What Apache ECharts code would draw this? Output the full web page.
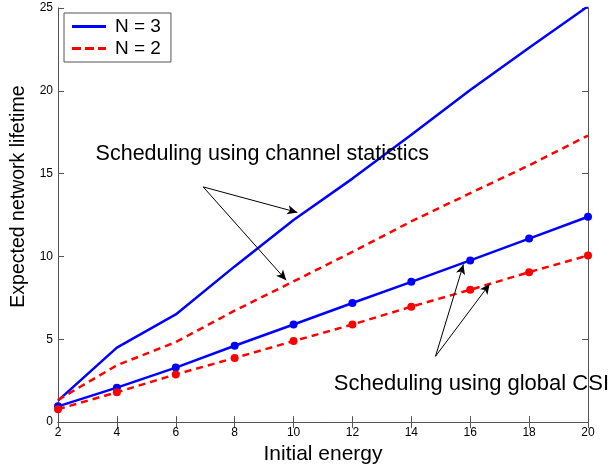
<!DOCTYPE html>
<html><head><meta charset="utf-8">
<script src="https://cdn.jsdelivr.net/npm/echarts@6/dist/echarts.min.js"></script>
<style>html,body{margin:0;padding:0;background:#fff}#c{width:612px;height:470px}</style>
</head><body><div id="c"></div>
<script>
const energy = [2,4,6,8,10,12,14,16,18,20];
const statN3 = [1.3,4.5,6.5,9.4,12.2,14.7,17.35,20.05,22.6,25.1];
const statN2 = [1.34,3.43,4.83,6.73,8.49,10.28,12.12,13.82,15.5,17.3];
const csiN3 = [0.95,2.08,3.29,4.61,5.89,7.19,8.47,9.76,11.08,12.4];
const csiN2 = [0.78,1.8,2.88,3.87,4.89,5.89,6.97,7.99,9.05,10.06];
const xTicks = [2,4,6,8,10,12,14,16,18,20];
const yTicks = [0,5,10,15,20,25];

const FONT = 'Liberation Sans, Arial, Helvetica, sans-serif';
const zip = (xs, ys) => xs.map((x,i)=>[x, ys[i]]);
const BLUE = '#0000ff', RED = '#ff0000';

const chart = echarts.init(document.getElementById('c'));
const axisCommon = {
  min: 2, max: 20, interval: 2, type: 'value',
  axisLine: {lineStyle: {color: '#555', width: 1}},
  axisTick: {inside: true, length: 6, lineStyle: {color: '#555'}},
  splitLine: {show: false}
};
const arrowLine = {color: '#000', width: 1, type: 'solid'};
const annLabel = {show: true, position: 'right', distance: 0, fontSize: 21.5, color: '#000', fontFamily: FONT};
chart.setOption({
  animation: false,
  textStyle: {fontFamily: FONT},
  grid: {left: 58, right: 24, top: 8, bottom: 46, show: false},
  legend: {
    left: 64, top: 13, orient: 'vertical', itemGap: 1,
    itemWidth: 34, itemHeight: 3,
    borderColor: '#555', borderWidth: 1, padding: [3, 10, 3, 8],
    backgroundColor: '#fff',
    textStyle: {fontSize: 19, fontFamily: FONT, color: '#000', lineHeight: 21, padding: [0, 0, 0, 4]},
    data: [
      {name: 'N = 3', icon: 'rect', itemStyle: {color: BLUE}},
      {name: 'N = 2', icon: 'path://M0,0h9v3h-9z M13,0h9v3h-9z M26,0h8v3h-8z', itemStyle: {color: RED}}
    ]
  },
  xAxis: [
    Object.assign({}, axisCommon, {
      position: 'bottom',
      name: 'Initial energy', nameLocation: 'middle', nameGap: 20,
      nameTextStyle: {fontSize: 21, color: '#000', fontFamily: FONT},
      axisLabel: {fontSize: 12, color: '#000', margin: 5,
        formatter: v => xTicks.includes(v) ? String(v) : ''}
    }),
    Object.assign({}, axisCommon, {position: 'top', axisLabel: {show: false}})
  ],
  yAxis: [
    {type: 'value', min: 0, max: 25, interval: 5, position: 'left',
     axisLine: {show: true, lineStyle: {color: '#555'}},
     axisTick: {show: true, inside: true, length: 6, lineStyle: {color: '#555'}},
     splitLine: {show: false},
     name: 'Expected network lifetime', nameLocation: 'middle', nameGap: 12,
     nameTextStyle: {fontSize: 19.5, color: '#000', fontFamily: FONT, padding: [0, 0, 0, 37]},
     axisLabel: {fontSize: 12, color: '#000', margin: 5,
       formatter: v => yTicks.includes(v) ? String(v) : ''}},
    {type: 'value', min: 0, max: 25, interval: 5, position: 'right',
     axisLine: {show: true, lineStyle: {color: '#555'}},
     axisTick: {show: true, inside: true, length: 6, lineStyle: {color: '#555'}},
     splitLine: {show: false}, axisLabel: {show: false}}
  ],
  series: [
    {name: 'N = 3', type: 'line', data: zip(energy, statN3), symbol: 'none',
     clip: true, color: BLUE, lineStyle: {color: BLUE, width: 2.5}},
    {name: 'N = 2', type: 'line', data: zip(energy, statN2), symbol: 'none',
     clip: true, color: RED, lineStyle: {color: RED, width: 2.5, type: [7, 5]}},
    {name: 'N = 3 (global CSI)', type: 'line', data: zip(energy, csiN3), symbol: 'circle', symbolSize: 8,
     clip: false, color: BLUE, itemStyle: {color: BLUE}, lineStyle: {color: BLUE, width: 2.5}},
    {name: 'N = 2 (global CSI)', type: 'line', data: zip(energy, csiN2), symbol: 'circle', symbolSize: 8,
     clip: false, color: RED, itemStyle: {color: RED}, lineStyle: {color: RED, width: 2.5, type: [7, 5]},
     markLine: {
       silent: true, symbol: ['none', 'arrow'], symbolSize: [7, 10],
       label: {show: false}, lineStyle: arrowLine,
       data: [
         [{coord: [6.93, 14.2]}, {coord: [10.13, 12.66]}],
         [{coord: [6.93, 14.2]}, {coord: [9.75, 8.57]}],
         [{coord: [14.82, 3.97]}, {coord: [15.77, 9.52]}],
         [{coord: [14.82, 3.97]}, {coord: [16.66, 8.33]}]
       ]
     },
     markPoint: {
       silent: true, symbol: 'circle', symbolSize: 1,
       itemStyle: {color: 'rgba(0,0,0,0)'},
       data: [
         {coord: [3.26, 16.17], label: Object.assign({formatter: 'Scheduling using channel statistics'}, annLabel)},
         {coord: [11.35, 2.3], label: Object.assign({formatter: 'Scheduling using global CSI'}, annLabel, {fontSize: 22})}
       ]
     }}
  ]
});
</script></body></html>
